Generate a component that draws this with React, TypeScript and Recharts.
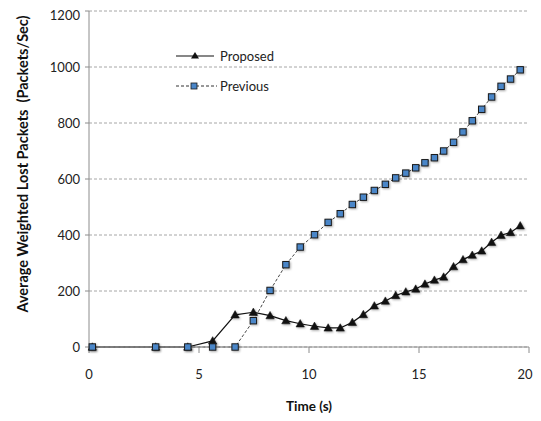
import React from "react";
import { LineChart, Line, XAxis, YAxis, CartesianGrid } from "recharts";

const times = [0.15, 3.03, 4.49, 5.62, 6.64, 7.47, 8.23, 8.95, 9.6, 10.25, 10.87, 11.42, 11.97, 12.47, 12.97, 13.47, 13.94, 14.4, 14.85, 15.27, 15.7, 16.12, 16.57, 17.0, 17.42, 17.85, 18.3, 18.73, 19.16, 19.6];
const proposed = [0, 0, 0, 22, 115, 124, 112, 94, 83, 74, 68, 68, 88, 116, 147, 164, 184, 197, 207, 225, 239, 250, 287, 312, 328, 343, 374, 399, 409, 433];
const previous = [0, 0, 0, 0, 0, 94, 202, 294, 357, 401, 445, 476, 509, 535, 559, 581, 604, 621, 640, 658, 676, 700, 731, 768, 808, 849, 893, 931, 957, 990];
const xTicks = [0, 5, 10, 15, 20];
const yTicks = [0, 200, 400, 600, 800, 1000, 1200];

const data = times.map((t, i) => ({ time: t, proposed: proposed[i], previous: previous[i] }));

const FONT = "Lato, 'Open Sans', sans-serif";
const AXIS = "#8c8c8c";
const SQUARE = "#4a86c8";
const W = 525;
const H = 413;

const Triangle = (props: any) => {
  const { cx, cy, index } = props;
  if (cx == null || cy == null) return <g key={"t" + index} />;
  const s = 4.2;
  return (
    <path
      key={"t" + index}
      d={`M${cx},${cy - s} L${cx + s},${cy + s * 0.75} L${cx - s},${cy + s * 0.75} Z`}
      fill="#111"
      stroke="#111"
      strokeWidth={0.5}
      style={{ filter: "drop-shadow(1px 1px 1px rgba(0,0,0,0.35))" }}
    />
  );
};

const Square = (props: any) => {
  const { cx, cy, index } = props;
  if (cx == null || cy == null) return <g key={"s" + index} />;
  const s = 3.2;
  return (
    <rect
      key={"s" + index}
      x={cx - s}
      y={cy - s}
      width={2 * s}
      height={2 * s}
      fill={SQUARE}
      stroke="#1a1a1a"
      strokeWidth={1}
      style={{ filter: "drop-shadow(1px 1px 1px rgba(0,0,0,0.35))" }}
    />
  );
};

const XTick = (props: any) => {
  const { x, y, payload } = props;
  const tx = Math.min(x, W - 8);
  return (
    <text x={tx} y={y} dy="0.71em" textAnchor="middle" fontFamily={FONT} fontSize={13} fill="#222">
      {payload.value}
    </text>
  );
};

const YTick = (props: any) => {
  const { x, y, payload } = props;
  const ty = Math.max(y, 7.5);
  return (
    <text x={x} y={ty} dy="0.355em" textAnchor="end" fontFamily={FONT} fontSize={13} fill="#222">
      {payload.value}
    </text>
  );
};

const LegendBox = () => (
  <div style={{ position: "absolute", left: 168, top: 33, fontFamily: FONT, fontSize: 13, color: "#222" }}>
    <div style={{ display: "flex", alignItems: "center", height: 30 }}>
      <svg width={44} height={12}>
        <line x1={0} y1={6} x2={38} y2={6} stroke="#111" strokeWidth={1.2} />
        <path d="M19,2 L23,8.5 L15,8.5 Z" fill="#111" />
      </svg>
      <span>Proposed</span>
    </div>
    <div style={{ display: "flex", alignItems: "center", height: 30 }}>
      <svg width={44} height={12}>
        <line x1={0} y1={6} x2={41} y2={6} stroke="#333" strokeWidth={1} strokeDasharray="3 2" />
        <rect x={15} y={3} width={6} height={6} fill={SQUARE} stroke="#1a1a1a" strokeWidth={0.8} />
      </svg>
      <span>Previous</span>
    </div>
  </div>
);

const YTitle = () => (
  <text
    x={14}
    y={156}
    transform="rotate(-90 14 156)"
    textAnchor="middle"
    dominantBaseline="central"
    fontFamily={FONT}
    fontWeight="bold"
    fontSize={14.5}
    fill="#111"
  >
    {"Average Weighted Lost Packets\u00a0\u00a0(Packets/Sec)"}
  </text>
);

const XTitle = () => (
  <text x={301} y={403} textAnchor="middle" fontFamily={FONT} fontWeight="bold" fontSize={13.5} fill="#111">
    Time (s)
  </text>
);

export default function App() {
  return (
    <div style={{ position: "relative", width: W, height: H, marginBottom: -8 }}>
      <LineChart
        width={W}
        height={H}
        data={data}
        margin={{ top: 3, right: 4, left: 0, bottom: 0 }}
      >
        <CartesianGrid horizontal={true} vertical={false} stroke="#a6a6a6" strokeDasharray="3 2" />
        <XAxis
          dataKey="time"
          type="number"
          domain={[0, 20]}
          ticks={xTicks}
          interval={0}
          height={74}
          stroke={AXIS}
          tickSize={6}
          tickMargin={17}
          tick={<XTick />}
          label={<XTitle />}
        />
        <YAxis
          type="number"
          domain={[0, 1200]}
          ticks={yTicks}
          interval={0}
          width={81}
          stroke={AXIS}
          tickSize={4}
          tickMargin={5}
          tick={<YTick />}
          label={<YTitle />}
        />
        <Line
          dataKey="proposed"
          stroke="#111"
          strokeWidth={1.2}
          dot={Triangle}
          activeDot={false}
          isAnimationActive={false}
        />
        <Line
          dataKey="previous"
          stroke="#444"
          strokeWidth={1}
          strokeDasharray="3 2"
          dot={Square}
          activeDot={false}
          isAnimationActive={false}
        />
      </LineChart>
      <LegendBox />
    </div>
  );
}
